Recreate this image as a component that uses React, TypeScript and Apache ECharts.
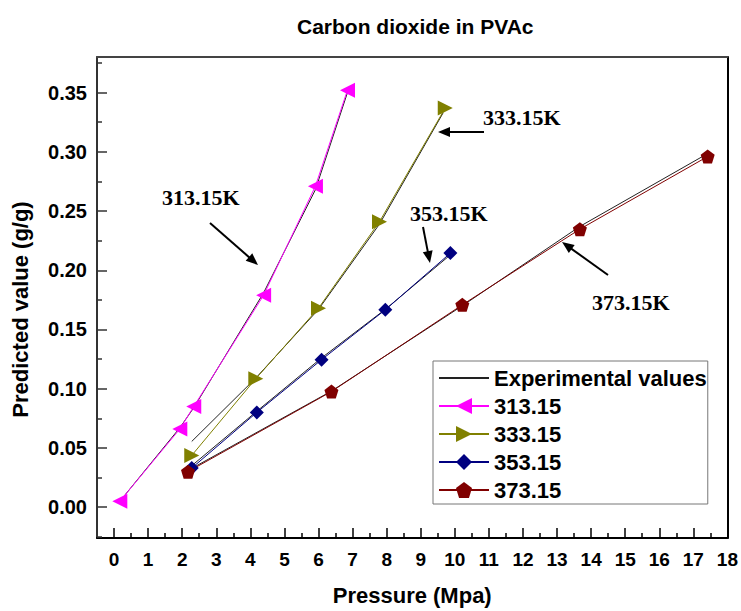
import React, { useEffect, useRef } from "react";
import * as echarts from "echarts";

const titleText = "Carbon dioxide in PVAc";
const xName = "Pressure (Mpa)";
const yName = "Predicted value (g/g)";
const expName = "Experimental values";
const predNames = ["313.15", "333.15", "353.15", "373.15"];
const predColors = ["#FF00FF", "#808000", "#000080", "#800000"];

const pred313 = [[0.17, 0.005], [1.93, 0.066], [2.34, 0.085], [4.39, 0.179], [5.91, 0.271], [6.85, 0.352]];
const pred333 = [[2.28, 0.0437], [4.16, 0.1085], [6.0, 0.168], [7.79, 0.241], [9.72, 0.337]];
const pred353 = [[2.28, 0.033], [4.19, 0.08], [6.09, 0.1245], [7.96, 0.1666], [9.87, 0.2145]];
const pred373 = [[2.17, 0.03], [6.38, 0.0976], [10.22, 0.1708], [13.67, 0.2347], [17.42, 0.296]];

const exp313 = [[0.17, 0.005], [1.93, 0.067], [2.34, 0.084], [4.39, 0.181], [5.91, 0.268], [6.85, 0.35]];
const exp333 = [[2.28, 0.0555], [4.16, 0.109], [6.0, 0.167], [7.79, 0.239], [9.66, 0.333]];
const exp353 = [[2.28, 0.035], [4.19, 0.081], [6.09, 0.126], [7.96, 0.167], [9.87, 0.213]];
const exp373 = [[2.17, 0.031], [6.38, 0.098], [10.22, 0.17], [13.67, 0.237], [17.42, 0.2985]];

const xMajorTicks = [0, 1, 2, 3, 4, 5, 6, 7, 8, 9, 10, 11, 12, 13, 14, 15, 16, 17, 18];
const xMinorTicks = [0.5, 1.5, 2.5, 3.5, 4.5, 5.5, 6.5, 7.5, 8.5, 9.5, 10.5, 11.5, 12.5, 13.5, 14.5, 15.5, 16.5, 17.5];
const yMajorTicks = [0, 0.05, 0.1, 0.15, 0.2, 0.25, 0.3, 0.35];
const yMinorTicks = [-0.025, 0.025, 0.075, 0.125, 0.175, 0.225, 0.275, 0.325, 0.375];

const annoLabels = ["313.15K", "333.15K", "353.15K", "373.15K"];
const annoLabelPos = [[162, 197], [483, 117], [410, 213], [592, 302]];
const arrowFrom = [[210, 223], [484, 132], [423, 227], [608, 275]];
const arrowTo = [[258, 265], [438, 132], [430, 263], [562, 242]];

const SANS = "'Liberation Sans', Arial, Helvetica, sans-serif";
const SERIF = "'Liberation Serif', 'Times New Roman', serif";

const pentagon = "path://M0,-10 L9.51,-3.09 L5.88,8.09 L-5.88,8.09 L-9.51,-3.09 Z";

function arrowGraphics() {
  const out: any[] = [];
  for (let i = 0; i < arrowFrom.length; i++) {
    const [x1, y1] = arrowFrom[i];
    const [x2, y2] = arrowTo[i];
    const dx = x2 - x1, dy = y2 - y1;
    const len = Math.sqrt(dx * dx + dy * dy);
    const ux = dx / len, uy = dy / len;
    const hl = 12, hw = 5;
    const bx = x2 - ux * hl, by = y2 - uy * hl;
    out.push({
      type: "line",
      shape: { x1, y1, x2: bx + ux * 2, y2: by + uy * 2 },
      style: { stroke: "#000", lineWidth: 2 },
      silent: true,
    });
    out.push({
      type: "polygon",
      shape: { points: [[x2, y2], [bx - uy * hw, by + ux * hw], [bx + uy * hw, by - ux * hw]] },
      style: { fill: "#000" },
      silent: true,
    });
  }
  for (let i = 0; i < annoLabels.length; i++) {
    out.push({
      type: "text",
      x: annoLabelPos[i][0],
      y: annoLabelPos[i][1],
      style: {
        text: annoLabels[i],
        font: `bold 22px ${SERIF}`,
        fill: "#000",
        align: "left",
        verticalAlign: "middle",
      },
      silent: true,
    });
  }
  return out;
}

export default function App() {
  const ref = useRef<HTMLDivElement>(null);
  useEffect(() => {
    if (!ref.current) return;
    const chart = echarts.init(ref.current, undefined, { renderer: "svg" });
    const preds = [pred313, pred333, pred353, pred373];
    const exps = [exp313, exp333, exp353, exp373];
    const symbols = ["triangle", "triangle", "diamond", pentagon];
    const rotates = [90, -90, 0, 0];
    const sizes = [15, 15, 14, 14];
    const series: any[] = [];
    exps.forEach((d) => {
      series.push({
        name: expName,
        type: "line",
        data: d,
        symbol: "none",
        lineStyle: { color: "#222", width: 1 },
        itemStyle: { color: "#222" },
        z: 2,
      });
    });
    preds.forEach((d, i) => {
      series.push({
        name: predNames[i],
        type: "line",
        data: d,
        symbol: symbols[i],
        symbolRotate: rotates[i],
        symbolSize: sizes[i],
        lineStyle: { color: predColors[i], width: 1 },
        itemStyle: { color: predColors[i] },
        z: 3,
      });
    });

    const xBase = { type: "value", min: -0.5, max: 18, gridIndex: 0, splitLine: { show: false } };
    const yBase = { type: "value", min: -0.026, max: 0.38, gridIndex: 0, splitLine: { show: false } };

    chart.setOption({
      animation: false,
      backgroundColor: "#fff",
      title: {
        text: titleText,
        left: 292,
        top: 11,
        textStyle: { fontFamily: SANS, fontWeight: "bold", fontSize: 21, color: "#000" },
      },
      legend: {
        data: [
          { name: expName, itemStyle: { opacity: 0 } },
          ...predNames,
        ],
        orient: "vertical",
        left: 433,
        top: 361,
        backgroundColor: "#fff",
        borderColor: "#777",
        borderWidth: 1,
        padding: [6, 1, 3, 5],
        itemWidth: 50,
        itemHeight: 20,
        itemGap: 6,
        textStyle: { fontFamily: SANS, fontWeight: "bold", fontSize: 22, color: "#000", lineHeight: 22 },
      },
      grid: { left: 97, right: 12, top: 57, bottom: 71 },
      xAxis: [
        {
          ...xBase,
          position: "bottom",
          name: xName,
          nameLocation: "middle",
          nameGap: 46,
          nameTextStyle: { fontFamily: SANS, fontWeight: "bold", fontSize: 22, color: "#000" },
          axisLine: { show: true, onZero: false, lineStyle: { color: "#000", width: 2 } },
          axisTick: { show: true, inside: true, length: 10, customValues: xMajorTicks, lineStyle: { color: "#000", width: 1.5 } },
          axisLabel: { show: true, customValues: xMajorTicks, margin: 12, fontFamily: SANS, fontWeight: "bold", fontSize: 19, color: "#000" },
        },
        {
          ...xBase,
          position: "bottom",
          axisLine: { show: false, onZero: false },
          axisTick: { show: true, inside: true, length: 5, customValues: xMinorTicks, lineStyle: { color: "#000", width: 1.5 } },
          axisLabel: { show: false },
        },
        {
          ...xBase,
          position: "top",
          axisLine: { show: true, onZero: false, lineStyle: { color: "#444", width: 2 } },
          axisTick: { show: false },
          axisLabel: { show: false },
        },
      ],
      yAxis: [
        {
          ...yBase,
          position: "left",
          name: yName,
          nameLocation: "middle",
          nameGap: 66,
          nameTextStyle: { fontFamily: SANS, fontWeight: "bold", fontSize: 22, color: "#000", padding: [0, 24, 0, 0] },
          axisLine: { show: true, onZero: false, lineStyle: { color: "#333", width: 2 } },
          axisTick: { show: true, inside: true, length: 10, customValues: yMajorTicks, lineStyle: { color: "#333", width: 1.5 } },
          axisLabel: {
            show: true,
            customValues: yMajorTicks,
            margin: 10,
            formatter: (v: number) => v.toFixed(2),
            fontFamily: SANS,
            fontWeight: "bold",
            fontSize: 20,
            color: "#000",
          },
        },
        {
          ...yBase,
          position: "left",
          axisLine: { show: false, onZero: false },
          axisTick: { show: true, inside: true, length: 5, customValues: yMinorTicks, lineStyle: { color: "#333", width: 1.5 } },
          axisLabel: { show: false },
        },
        {
          ...yBase,
          position: "right",
          axisLine: { show: true, onZero: false, lineStyle: { color: "#000", width: 2 } },
          axisTick: { show: false },
          axisLabel: { show: false },
        },
      ],
      graphic: arrowGraphics(),
      series,
    });
    return () => chart.dispose();
  }, []);
  return <div ref={ref} style={{ position: "fixed", left: 0, top: 0, width: 741, height: 611 }} />;
}
